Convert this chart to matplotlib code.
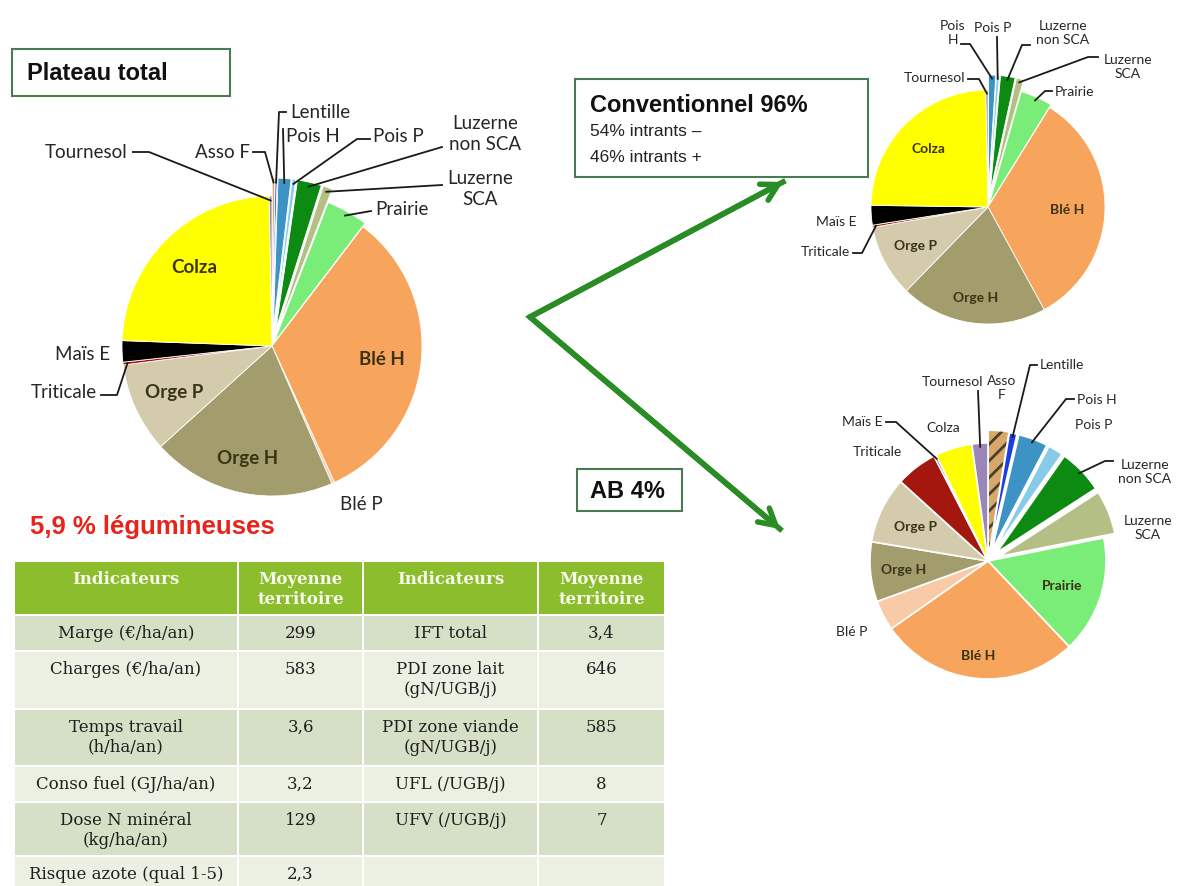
import numpy as np
import matplotlib
matplotlib.use("Agg")
import matplotlib.pyplot as plt
from matplotlib.patches import Rectangle

# ---- data ----
main_crops = ['Asso F', 'Lentille', 'Pois H', 'Pois P', 'Luzerne non SCA', 'Luzerne SCA',
              'Prairie', 'Blé H', 'Blé P', 'Orge H', 'Orge P', 'Triticale', 'Maïs E',
              'Colza', 'Tournesol']
main_share = [0.3, 0.2, 1.4, 0.4, 2.6, 1.0, 4.5, 32.9, 0.3, 19.9, 9.7, 0.3, 2.3, 24.2, 0.3]

conv_crops = ['Pois H', 'Pois P', 'Luzerne non SCA', 'Luzerne SCA', 'Prairie', 'Blé H',
              'Orge H', 'Orge P', 'Triticale', 'Maïs E', 'Colza', 'Tournesol']
conv_share = [1.0, 0.4, 2.0, 1.0, 4.4, 33.1, 20.2, 9.9, 0.3, 2.7, 24.4, 0.3]

ab_crops = ['Asso F', 'Lentille', 'Pois H', 'Pois P', 'Luzerne non SCA', 'Luzerne SCA',
            'Prairie', 'Blé H', 'Blé P', 'Orge H', 'Orge P', 'Triticale', 'Maïs E',
            'Colza', 'Tournesol']
ab_share = [2.5, 1.0, 3.9, 2.0, 5.9, 5.8, 15.5, 26.4, 4.0, 7.9, 8.8, 5.5, 0.3, 4.9, 2.1]

legumes = ['Asso F', 'Lentille', 'Pois H', 'Pois P', 'Luzerne non SCA', 'Luzerne SCA']

table_header = ['Indicateurs', 'Moyenne\nterritoire', 'Indicateurs', 'Moyenne\nterritoire']
ind_left = ['Marge (€/ha/an)', 'Charges (€/ha/an)', 'Temps travail\n(h/ha/an)',
            'Conso fuel (GJ/ha/an)', 'Dose N minéral\n(kg/ha/an)', 'Risque azote (qual 1-5)']
val_left = ['299', '583', '3,6', '3,2', '129', '2,3']
ind_right = ['IFT total', 'PDI zone lait\n(gN/UGB/j)', 'PDI zone viande\n(gN/UGB/j)',
             'UFL (/UGB/j)', 'UFV (/UGB/j)', '']
val_right = ['3,4', '646', '585', '8', '7', '']

# ---- styles ----
crop_colors = {
    'Asso F': '#D8A86A', 'Lentille': '#1A3FE0', 'Pois H': '#3D93C4', 'Pois P': '#88CBE8',
    'Luzerne non SCA': '#0C8A12', 'Luzerne SCA': '#B4BF86', 'Prairie': '#7AEC78',
    'Blé H': '#F7A55C', 'Blé P': '#F9CAA8', 'Orge H': '#A39C6C', 'Orge P': '#D3CBAB',
    'Triticale': '#A3170F', 'Maïs E': '#000000', 'Colza': '#FFFF00', 'Tournesol': '#9A87B8'}
label_font = ['Lato', 'DejaVu Sans']
label_color = '#262626'
inside_color = '#3A3316'
box_edge = '#4A7A52'
arrow_green = '#2A8C24'
plt.rcParams['hatch.linewidth'] = 2.0

fig = plt.figure(figsize=(11.8, 8.87), dpi=100)
ax = fig.add_axes([0, 0, 1, 1])


def edge_point(w, frac):
    t = np.deg2rad((w.theta1 + w.theta2) / 2)
    return (w.center[0] + w.r * frac * np.cos(t), w.center[1] + w.r * frac * np.sin(t))


def draw_pie(crops, share, center, radius, expl, lw, out_labels, in_labels, fs):
    explode = [expl.get(c, 0) for c in crops]
    wedges, _ = ax.pie(share, colors=[crop_colors[c] for c in crops], startangle=270,
                       counterclock=True, center=center, radius=radius, explode=explode,
                       wedgeprops=dict(edgecolor='white', linewidth=lw), frame=True)
    byname = dict(zip(crops, wedges))
    for name, (txt, tx, ty, ha, path) in out_labels.items():
        ax.text(tx, ty, txt, ha=ha, va='center', fontsize=fs, family=label_font,
                color=label_color, linespacing=1.25)
        if path:
            pts = path + [edge_point(byname[name], 0.97)]
            ax.plot([p[0] for p in pts], [p[1] for p in pts], color='#1a1a1a', lw=1.3)
    for name, frac in in_labels.items():
        x, y = edge_point(byname[name], frac)
        ax.text(x, y, name, ha='center', va='center', fontsize=fs, family=label_font,
                fontweight='bold', color=inside_color)
    return byname


# ---- main pie ----
main_out = {
    'Tournesol': ('Tournesol', 127, 152, 'right', [(133, 153), (149, 153)]),
    'Asso F': ('Asso F', 250, 152, 'right', [(253, 153), (265, 153)]),
    'Lentille': ('Lentille', 290, 112, 'left', [(286, 113), (279, 113)]),
    'Pois H': ('Pois H', 286, 137, 'left', [(283, 130)]),
    'Pois P': ('Pois P', 373, 137, 'left', [(370, 140), (357, 140)]),
    'Luzerne non SCA': ('Luzerne\nnon SCA', 485, 134, 'center', [(442, 148)]),
    'Luzerne SCA': ('Luzerne\nSCA', 480, 189, 'center', [(442, 186)]),
    'Prairie': ('Prairie', 375, 210, 'left', [(371, 212)]),
    'Blé P': ('Blé P', 340, 505, 'left', []),
    'Triticale': ('Triticale', 97, 393, 'right', [(101, 396), (117, 396)]),
    'Maïs E': ('Maïs E', 110, 355, 'right', []),
}
main_in = {'Colza': 0.74, 'Blé H': 0.74, 'Orge H': 0.76, 'Orge P': 0.72}
draw_pie(main_crops, main_share, (272, 347), 150, {c: 18 for c in legumes} | {'Prairie': 4},
         0.6, main_out, main_in, 13.5)

# ---- conventional pie ----
conv_out = {
    'Pois H': ('Pois\nH', 953, 33, 'center', [(961, 45), (970, 45)]),
    'Pois P': ('Pois P', 993, 28, 'center', [(997, 38)]),
    'Luzerne non SCA': ('Luzerne\nnon SCA', 1063, 33, 'center', [(1030, 46), (1022, 46)]),
    'Luzerne SCA': ('Luzerne\nSCA', 1128, 67, 'center', [(1098, 58), (1088, 58)]),
    'Prairie': ('Prairie', 1055, 92, 'left', [(1052, 92), (1045, 92)]),
    'Tournesol': ('Tournesol', 965, 78, 'right', [(968, 80), (979, 80)]),
    'Maïs E': ('Maïs E', 856, 222, 'right', []),
    'Triticale': ('Triticale', 850, 252, 'right', [(853, 254), (862, 254)]),
}
conv_in = {'Colza': 0.72, 'Blé H': 0.68, 'Orge H': 0.78, 'Orge P': 0.7}
draw_pie(conv_crops, conv_share, (988, 208), 117, {c: 15 for c in legumes} | {'Prairie': 3},
         0.6, conv_out, conv_in, 10)

# ---- organic pie ----
ab_out = {
    'Tournesol': ('Tournesol', 952, 382, 'center', [(978, 392)]),
    'Asso F': ('Asso\nF', 1002, 388, 'center', []),
    'Lentille': ('Lentille', 1040, 365, 'left', [(1037, 366), (1030, 366)]),
    'Pois H': ('Pois H', 1077, 400, 'left', [(1074, 400), (1066, 400)]),
    'Pois P': ('Pois P', 1075, 425, 'left', []),
    'Luzerne non SCA': ('Luzerne\nnon SCA', 1145, 472, 'center', [(1113, 462), (1105, 462)]),
    'Luzerne SCA': ('Luzerne\nSCA', 1148, 528, 'center', []),
    'Maïs E': ('Maïs E', 882, 422, 'right', [(886, 423), (896, 423)]),
    'Colza': ('Colza', 943, 428, 'center', []),
    'Triticale': ('Triticale', 877, 452, 'center', []),
    'Blé P': ('Blé P', 852, 632, 'center', []),
}
ab_in = {'Orge P': 0.68, 'Orge H': 0.72, 'Prairie': 0.66, 'Blé H': 0.8}
ab_w = draw_pie(ab_crops, ab_share, (988, 562), 118, {c: 12 for c in legumes},
                1.2, ab_out, ab_in, 10)
asso = ab_w['Asso F']
asso.set_edgecolor('#4A3F2A')
asso.set_linewidth(0)
asso.set_hatch('//')

# ---- title boxes ----
ax.add_patch(Rectangle((12, 50), 218, 47, fill=False, ec=box_edge, lw=1.5))
ax.text(27, 74, 'Plateau total', fontsize=17, fontweight='bold', va='center',
        family='Liberation Sans', color='#111111')
ax.add_patch(Rectangle((575, 80), 293, 98, fc='white', ec=box_edge, lw=1.5))
ax.text(590, 105, 'Conventionnel 96%', fontsize=17, fontweight='bold', va='center',
        family='Liberation Sans', color='#111111')
ax.text(590, 131, '54% intrants –', fontsize=12.5, va='center', family='Liberation Sans',
        color='#222222')
ax.text(590, 157, '46% intrants +', fontsize=12.5, va='center', family='Liberation Sans',
        color='#222222')
ax.add_patch(Rectangle((577, 470), 105, 42, fc='white', ec=box_edge, lw=1.5))
ax.text(590, 492, 'AB 4%', fontsize=17, fontweight='bold', va='center',
        family='Liberation Sans', color='#111111')
ax.text(30, 527, '5,9 % légumineuses', fontsize=18.5, fontweight='bold', va='center',
        family='Liberation Sans', color='#E8231B')

# ---- arrows ----
vertex = (530, 318)
tips = [(783, 183), (780, 530)]
ax.plot([tips[0][0], vertex[0], tips[1][0]], [tips[0][1], vertex[1], tips[1][1]],
        color=arrow_green, lw=4, solid_joinstyle='miter')
for tip in tips:
    ax.annotate('', xy=tip, xytext=vertex,
                arrowprops=dict(arrowstyle='->,head_length=1.15,head_width=0.65',
                                color=arrow_green, lw=4, shrinkA=0, shrinkB=0))

# ---- table ----
col_edges = [14, 238, 363, 538, 665]
row_edges = [562, 616, 652, 710, 767, 803, 857, 905]
header_color = '#8CBD2C'
row_colors = ['#D6E0C7', '#EBF0E3']
body = [ind_left, val_left, ind_right, val_right]
for r in range(len(row_edges) - 1):
    y0, y1 = row_edges[r], row_edges[r + 1]
    fc = header_color if r == 0 else row_colors[(r - 1) % 2]
    for c in range(4):
        x0, x1 = col_edges[c], col_edges[c + 1]
        ax.add_patch(Rectangle((x0 + 1, y0 + 1), x1 - x0 - 2, y1 - y0 - 2, fc=fc, ec='none'))
        xc = (x0 + x1) / 2
        if r == 0:
            ax.text(xc, y0 + 9, table_header[c], ha='center', va='top', fontsize=12,
                    fontweight='bold', family='DejaVu Serif', color='#F6F9EC',
                    linespacing=1.2)
        else:
            ax.text(xc, y0 + 9, body[c][r - 1], ha='center', va='top', fontsize=12,
                    family='DejaVu Serif', color='#1E1E1E', linespacing=1.2)

ax.set_xlim(0, 1180)
ax.set_ylim(887, 0)
ax.axis('off')
fig.savefig('out.png', dpi=100)
